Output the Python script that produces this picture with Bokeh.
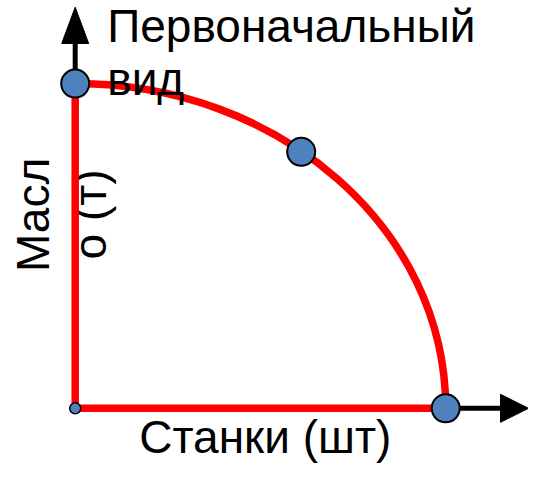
from bokeh.plotting import figure
from bokeh.models import Range1d
from bokeh.core.properties import value
from bokeh.embed import file_html
from bokeh.resources import INLINE

# ---- data ----
machines = [0, 61, 100]        # Станки (шт)
oil = [100, 79, 0]             # Масло (т)
x_label = "Станки (шт)"
y_label_1 = "Масл"
y_label_2 = "о (т)"
title_1 = "Первоначальный"
title_2 = "вид"

W, H = 528, 466
# layout: origin at canvas pixel (ox, oy); px per data unit sx, sy
ox, oy = 74.7, 407.8
sx, sy = 3.705, 3.247
x0 = -ox / sx
x1 = (W - ox) / sx
y0 = -(H - oy) / sy
y1 = oy / sy
TXT_SHIFT = 17.5  # baseline compensation (px)


def dx(px):
    return (px - ox) / sx


def dy(py):
    return (oy - py) / sy


p = figure(width=W, height=H, output_backend="svg", toolbar_location=None,
           x_range=Range1d(x0, x1), y_range=Range1d(y0, y1),
           min_border=0, background_fill_color="white", border_fill_color="white")
p.axis.visible = False
p.grid.visible = False
p.outline_line_color = None

FONT = value("Liberation Sans")
FS = value("46px")

xmax = max(machines)
ymax = max(oil)

# black axes with arrow heads
up_tip, up_base, up_half = dy(6.7), dy(43), 13.5 / sx
r_tip, r_base, r_half = dx(528), dx(500), 14 / sy
p.line([0, 0], [0, up_base + 0.3], line_color="black", line_width=5)
p.line([0, r_base + 0.3], [0, 0], line_color="black", line_width=5)
p.patch([-up_half, 0, up_half], [up_base, up_tip, up_base],
        fill_color="black", line_color="black")
p.patch([r_base, r_tip, r_base], [-r_half, 0, r_half],
        fill_color="black", line_color="black")

# y-label (under the red lines)
p.text(x=[dx(50.4 - TXT_SHIFT)], y=[dy(214.4)], text=[y_label_1], angle=1.5708,
       text_align="center", text_baseline="alphabetic", text_font=FONT,
       text_font_size=FS, text_color="black")
p.text(x=[dx(106.7 - TXT_SHIFT)], y=[dy(213.9)], text=[y_label_2], angle=1.5708,
       text_align="center", text_baseline="alphabetic", text_font=FONT,
       text_font_size=FS, text_color="black")

# red frontier: axes segments and quarter-ellipse arc
p.line([0, 0], [0, ymax], line_color="#FF0000", line_width=7.5)
p.line([0, xmax], [0, 0], line_color="#FF0000", line_width=7.5)
k = 0.5523
p.bezier(x0=[0], y0=[ymax], x1=[xmax], y1=[0],
         cx0=[k * xmax], cy0=[ymax], cx1=[xmax], cy1=[k * ymax],
         line_color="#FF0000", line_width=7.5)

# titles (on top of the arc)
p.text(x=[dx(106.7)], y=[dy(43 - TXT_SHIFT)], text=[title_1],
       text_align="left", text_baseline="alphabetic", text_font=FONT,
       text_font_size=FS, text_color="black")
p.text(x=[dx(106.7)], y=[dy(95.5 - TXT_SHIFT)], text=[title_2],
       text_align="left", text_baseline="alphabetic", text_font=FONT,
       text_font_size=FS, text_color="black")
p.text(x=[dx(264.8)], y=[dy(454 - TXT_SHIFT)], text=[x_label],
       text_align="center", text_baseline="alphabetic", text_font=FONT,
       text_font_size=FS, text_color="black")

# points
p.scatter(x=[0], y=[0], size=11, fill_color="#4F81BD", line_color="black", line_width=1.5)
p.scatter(x=machines, y=oil, size=28, fill_color="#4F81BD", line_color="black", line_width=2)

open("out.html", "w").write(file_html(p, INLINE))
